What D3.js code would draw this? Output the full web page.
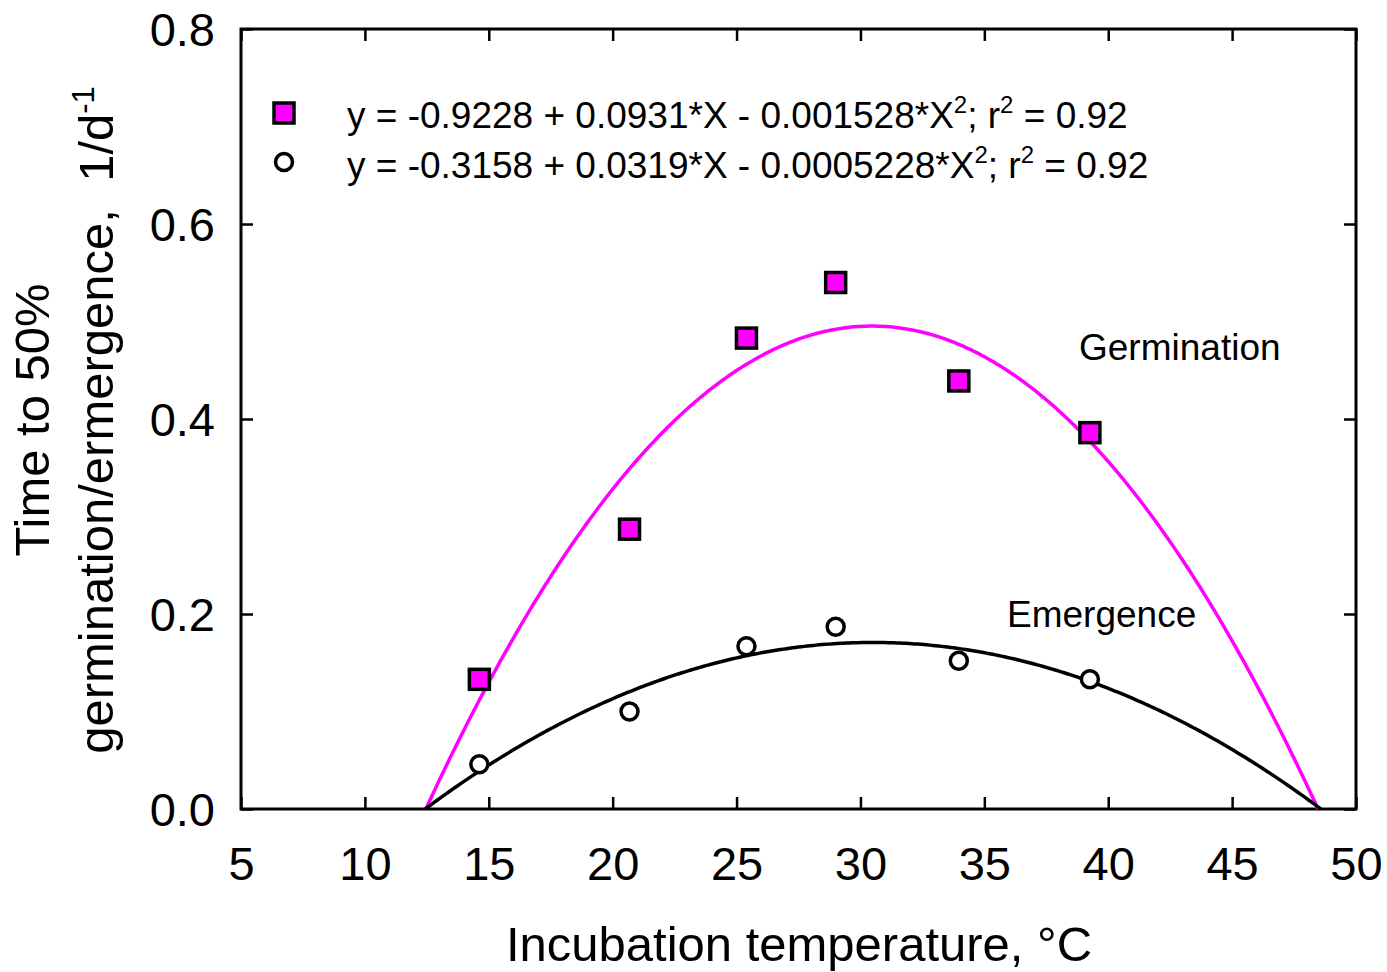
<!DOCTYPE html>
<html>
<head>
<meta charset="utf-8">
<script src="https://cdn.jsdelivr.net/npm/d3@7"></script>
<style>
  body { margin: 0; background: #fff; }
  text { font-family: "Liberation Sans", Arial, sans-serif; fill: #000; }
</style>
</head>
<body>
<div id="chart"></div>
<script>
// data
const temps = [14.62, 20.68, 25.4, 29.0, 33.97, 39.26];
const germination = [0.133, 0.287, 0.483, 0.540, 0.439, 0.386];
const emergence = [0.046, 0.100, 0.167, 0.187, 0.152, 0.133];
// fitted quadratics as printed in the legend: a + b*X + c*X^2
const germFit = [-0.9228, 0.0931, -0.001528];
const emerFit = [-0.3158, 0.0319, -0.0005228];
const xTicks = [5, 10, 15, 20, 25, 30, 35, 40, 45, 50];
const yTicks = [0, 0.2, 0.4, 0.6, 0.8];

const width = 1387, height = 972;
const margin = { top: 29, right: 31, bottom: 163, left: 241 };

const svg = d3.select("#chart").append("svg")
  .attr("width", width)
  .attr("height", height);

const x = d3.scaleLinear().domain([5, 50]).range([margin.left, width - margin.right]);
const y = d3.scaleLinear().domain([0, 0.8]).range([height - margin.bottom, margin.top]);

// frame
svg.append("rect")
  .attr("x", x(5)).attr("y", y(0.8))
  .attr("width", x(50) - x(5)).attr("height", y(0) - y(0.8))
  .attr("fill", "none").attr("stroke", "#000").attr("stroke-width", 3);

// axes with inward ticks
const axisStyle = g => {
  g.select(".domain").remove();
  g.selectAll(".tick line").attr("stroke", "#000").attr("stroke-width", 2.5);
  g.selectAll(".tick text").attr("font-size", 47).attr("font-family", "Liberation Sans, Arial, sans-serif");
};

svg.append("g")
  .attr("transform", `translate(0,${y(0)})`)
  .call(d3.axisBottom(x).tickValues(xTicks).tickSize(-12).tickFormat(d3.format("d")))
  .call(axisStyle)
  .call(g => g.selectAll(".tick text").attr("dy", null).attr("y", 71));

svg.append("g")
  .attr("transform", `translate(0,${y(0.8)})`)
  .call(d3.axisTop(x).tickValues(xTicks).tickSize(-12).tickFormat(""))
  .call(axisStyle);

svg.append("g")
  .attr("transform", `translate(${x(5)},0)`)
  .call(d3.axisLeft(y).tickValues(yTicks).tickSize(-12).tickFormat(d3.format(".1f")))
  .call(axisStyle)
  .call(g => g.selectAll(".tick text").attr("x", -26).attr("dy", "0.36em"));

svg.append("g")
  .attr("transform", `translate(${x(50)},0)`)
  .call(d3.axisRight(y).tickValues(yTicks).tickSize(-12).tickFormat(""))
  .call(axisStyle);

// fitted curves between roots
function fitCurve(c) {
  const [a, b, q] = c;
  const disc = Math.sqrt(b * b - 4 * q * a);
  const r1 = (-b + disc) / (2 * q), r2 = (-b - disc) / (2 * q);
  const lo = Math.min(r1, r2), hi = Math.max(r1, r2);
  const xs = d3.range(lo, hi, (hi - lo) / 300).concat([hi]);
  return xs.map(t => [t, Math.max(0, a + b * t + q * t * t)]);
}
const line = d3.line().x(d => x(d[0])).y(d => y(d[1]));

svg.append("path").datum(fitCurve(germFit)).attr("d", line)
  .attr("fill", "none").attr("stroke", "#ff00ff").attr("stroke-width", 3.5);
svg.append("path").datum(fitCurve(emerFit)).attr("d", line)
  .attr("fill", "none").attr("stroke", "#000").attr("stroke-width", 3.5);

// markers
const sq = 20, cr = 8.5;
svg.selectAll("rect.germ").data(temps).enter().append("rect")
  .attr("class", "germ")
  .attr("x", d => x(d) - sq / 2).attr("y", (d, i) => y(germination[i]) - sq / 2)
  .attr("width", sq).attr("height", sq)
  .attr("fill", "#ff00ff").attr("stroke", "#000").attr("stroke-width", 3.5);

svg.selectAll("circle.emer").data(temps).enter().append("circle")
  .attr("class", "emer")
  .attr("cx", d => x(d)).attr("cy", (d, i) => y(emergence[i]))
  .attr("r", cr)
  .attr("fill", "#fff").attr("stroke", "#000").attr("stroke-width", 3.5);

// legend
const legend = svg.append("g");
legend.append("rect").attr("x", 284 - sq / 2).attr("y", 113 - sq / 2)
  .attr("width", sq).attr("height", sq)
  .attr("fill", "#ff00ff").attr("stroke", "#000").attr("stroke-width", 3.5);
legend.append("circle").attr("cx", 284).attr("cy", 162).attr("r", cr)
  .attr("fill", "#fff").attr("stroke", "#000").attr("stroke-width", 3.5);

function legendText(yy, parts) {
  const t = legend.append("text").attr("x", 347).attr("y", yy).attr("font-size", 37);
  parts.forEach(p => {
    const s = t.append("tspan").text(p.t);
    if (p.sup) s.attr("font-size", 24).attr("dy", -15);
    if (p.down) s.attr("dy", 15);
  });
}
legendText(128, [
  { t: "y = -0.9228 + 0.0931*X - 0.001528*X" }, { t: "2", sup: true },
  { t: "; r", down: true }, { t: "2", sup: true }, { t: " = 0.92", down: true }
]);
legendText(178, [
  { t: "y = -0.3158 + 0.0319*X - 0.0005228*X" }, { t: "2", sup: true },
  { t: "; r", down: true }, { t: "2", sup: true }, { t: " = 0.92", down: true }
]);

// curve labels
svg.append("text").attr("x", 1079).attr("y", 360).attr("font-size", 37).text("Germination");
svg.append("text").attr("x", 1007).attr("y", 627).attr("font-size", 37).text("Emergence");

// axis titles
svg.append("text")
  .attr("x", 799).attr("y", 961)
  .attr("text-anchor", "middle").attr("font-size", 49)
  .text("Incubation temperature, °C");

const yt = svg.append("text")
  .attr("transform", "translate(0,420) rotate(-90)")
  .attr("text-anchor", "middle").attr("font-size", 49);
yt.append("tspan").attr("x", 0).attr("y", 49).text("Time to 50%");
const l2 = yt.append("tspan").attr("x", 0).attr("y", 113);
l2.append("tspan").text("germination/ermergence,\u00a0 1/d");
l2.append("tspan").attr("font-size", 31).attr("dy", -19).text("-1");
</script>
</body>
</html>
